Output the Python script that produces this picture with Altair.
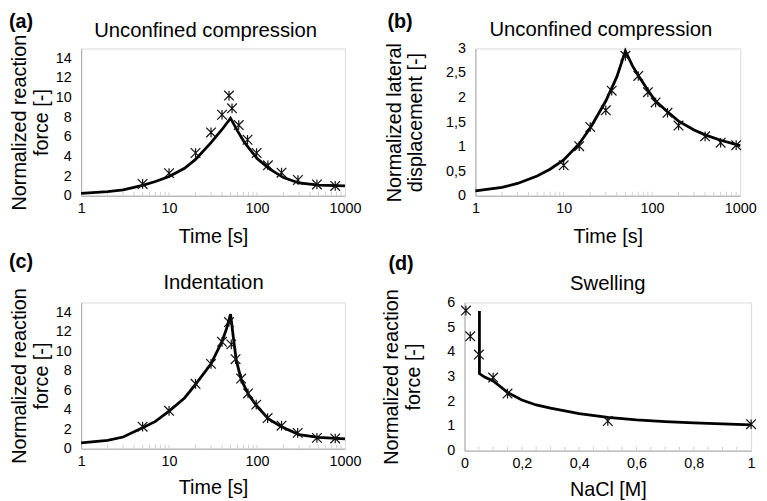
import altair as alt
import pandas as pd

FONT = "Liberation Sans"
STAR = "M-1,-1L1,1M-1,1L1,-1M0,-1L0,1"

# ---------------- data ----------------
PANEL_LABELS = ["(a)", "(b)", "(c)", "(d)"]
PANEL_TITLES = ["Unconfined compression", "Unconfined compression", "Indentation", "Swelling"]

# (a) unconfined compression - reaction force
A_LINE_T = [1, 2, 3, 5, 7, 10, 15, 20, 30, 40, 50, 60, 70, 80, 100, 140, 200, 300, 500, 1000]
A_LINE_F = [0.25, 0.42, 0.6, 1.05, 1.45, 1.95, 2.8, 3.7, 5.4, 6.75, 7.9, 6.6, 5.6, 4.9, 3.8, 2.7, 1.85, 1.3, 1.08, 1.0]
A_PTS_T = [5, 10, 20, 30, 40, 48, 52, 62, 78, 99, 133, 190, 292, 480, 775]
A_PTS_F = [1.2, 2.3, 4.35, 6.45, 8.25, 10.2, 8.9, 7.2, 5.7, 4.35, 3.1, 2.35, 1.6, 1.15, 1.0]

# (b) unconfined compression - lateral displacement
B_LINE_T = [1, 2, 3, 5, 7, 10, 15, 20, 30, 40, 50, 60, 70, 90, 110, 150, 200, 300, 400, 600, 1000]
B_LINE_D = [0.1, 0.17, 0.25, 0.4, 0.54, 0.73, 1.06, 1.38, 1.93, 2.42, 2.95, 2.65, 2.45, 2.15, 1.93, 1.71, 1.52, 1.34, 1.24, 1.13, 1.02]
B_PTS_T = [10, 15, 20, 30, 35, 50, 70, 90, 110, 150, 200, 400, 600, 900]
B_PTS_D = [0.62, 1.01, 1.4, 1.74, 2.14, 2.85, 2.44, 2.11, 1.9, 1.69, 1.43, 1.21, 1.08, 1.03]

# (c) indentation
C_LINE_T = [1, 2, 3, 5, 7, 10, 15, 20, 30, 40, 45, 50, 54, 58, 66, 80, 100, 135, 190, 300, 500, 1000]
C_LINE_F = [0.6, 0.85, 1.2, 2.15, 2.8, 3.85, 5.2, 6.6, 8.7, 11.0, 12.3, 13.8, 11.3, 9.1, 7.1, 5.55, 4.35, 3.05, 2.25, 1.45, 1.15, 1.0]
C_PTS_T = [5, 10, 20, 30, 40, 48, 51, 57, 66, 79, 98, 132, 190, 290, 480, 775]
C_PTS_F = [2.26, 3.88, 6.65, 8.7, 10.96, 12.99, 10.7, 9.18, 7.19, 5.67, 4.52, 3.14, 2.36, 1.62, 1.11, 1.05]

# (d) swelling
D_LINE_C = [0.052, 0.052, 0.07, 0.1, 0.15, 0.2, 0.25, 0.3, 0.4, 0.5, 0.6, 0.7, 0.8, 0.9, 1.0]
D_LINE_F = [5.65, 3.12, 2.98, 2.82, 2.36, 2.05, 1.85, 1.72, 1.5, 1.35, 1.25, 1.18, 1.12, 1.08, 1.04]
D_PTS_C = [0.005, 0.02, 0.05, 0.1, 0.15, 0.5, 1.0]
D_PTS_F = [5.67, 4.63, 3.89, 2.96, 2.31, 1.2, 1.07]

LOG_TICKS = [1, 10, 100, 1000]
LOG_MINOR = [2, 3, 4, 5, 6, 7, 8, 9, 10, 20, 30, 40, 50, 60, 70, 80, 90, 100,
             200, 300, 400, 500, 600, 700, 800, 900]
NACL_TICKS = [0, 0.2, 0.4, 0.6, 0.8, 1.0]
NACL_MINOR = [0.05, 0.1, 0.15, 0.2, 0.25, 0.3, 0.35, 0.4, 0.45, 0.5, 0.55, 0.6,
              0.65, 0.7, 0.75, 0.8, 0.85, 0.9, 0.95]
FORCE_TICKS = [0, 2, 4, 6, 8, 10, 12, 14]
DISP_TICKS = [0, 0.5, 1, 1.5, 2, 2.5, 3]
SWELL_TICKS = [0, 1, 2, 3, 4, 5, 6]

Y_FORCE_TITLE = ["Normalized reaction", "force [-]"]
Y_DISP_TITLE = ["Normalized lateral", "displacement [-]"]
X_TIME_TITLE = "Time [s]"
X_NACL_TITLE = "NaCl [M]"

COMMA = "replace(datum.label, '.', ',')"


def log_axis(tpad):
    return lambda: alt.Axis(values=LOG_TICKS, format="d", title=X_TIME_TITLE,
                            labelPadding=6, titlePadding=tpad)


def nacl_axis(tpad):
    return lambda: alt.Axis(values=NACL_TICKS, format=".1~f", labelExpr=COMMA,
                            title=X_NACL_TITLE, labelPadding=6, titlePadding=tpad)


def y_axis(values, title, tpad, fmt=None):
    kw = dict(values=values, title=title, labelPadding=10, titlePadding=tpad,
              titleLineHeight=22)
    if fmt:
        kw["format"] = fmt
        kw["labelExpr"] = COMMA
    return alt.Axis(**kw)


def panel(idx, lx, ly, px, py, xscale, xaxis_fn, yscale, yaxis, minor,
          w, h, lab_x, lab_y, title_x, title_y):
    def xe():
        return alt.X("x:Q", scale=xscale, axis=xaxis_fn())

    def ye():
        return alt.Y("y:Q", scale=yscale, axis=yaxis)

    line_df = pd.DataFrame({"x": lx, "y": ly, "i": list(range(len(lx)))})
    pts_df = pd.DataFrame({"x": px, "y": py})
    minor_df = pd.DataFrame({"x": minor})
    txt_df = pd.DataFrame({"t": [PANEL_LABELS[idx]], "title": [PANEL_TITLES[idx]]})

    ticks = alt.Chart(minor_df).mark_rule(color="#d0d0d0", strokeWidth=1).encode(
        x=xe(), y=alt.value(h), y2=alt.value(h - 4))
    line = alt.Chart(line_df).mark_line(color="black", strokeWidth=2.8).encode(
        x=xe(), y=ye(), order=alt.Order("i:Q"))
    pts = alt.Chart(pts_df).mark_point(shape=STAR, size=95, filled=False,
                                       color="#111111", strokeWidth=1.2,
                                       opacity=1).encode(x=xe(), y=ye())
    lab = alt.Chart(txt_df).mark_text(align="left", baseline="top", font=FONT,
                                      fontSize=20, fontWeight="bold",
                                      color="black").encode(
        x=alt.value(lab_x), y=alt.value(lab_y), text="t:N")
    ttl = alt.Chart(txt_df).mark_text(align="center", baseline="alphabetic",
                                      font=FONT, fontSize=20.5,
                                      color="black").encode(
        x=alt.value(title_x), y=alt.value(title_y), text="title:N")
    return alt.layer(ticks, line, pts, lab, ttl).properties(width=w, height=h)


log_scale = alt.Scale(type="log", domain=[1, 1000], nice=False)

pa = panel(0, A_LINE_T, A_LINE_F, A_PTS_T, A_PTS_F, log_scale, log_axis(12),
           alt.Scale(domain=[0, 15], nice=False),
           y_axis(FORCE_TICKS, Y_FORCE_TITLE, 4), LOG_MINOR,
           267, 149, -73, -37, 126, -12)
pb = panel(1, B_LINE_T, B_LINE_D, B_PTS_T, B_PTS_D, log_scale, log_axis(12),
           alt.Scale(domain=[0, 3], nice=False),
           y_axis(DISP_TICKS, Y_DISP_TITLE, 20, ".1~f"), LOG_MINOR,
           268, 149, -89, -37, 127, -13)
pc = panel(2, C_LINE_T, C_LINE_F, C_PTS_T, C_PTS_F, log_scale, log_axis(10),
           alt.Scale(domain=[0, 15], nice=False),
           y_axis(FORCE_TICKS, Y_FORCE_TITLE, 4), LOG_MINOR,
           267, 148, -73, -51, 134, -14)
pd_ = panel(3, D_LINE_C, D_LINE_F, D_PTS_C, D_PTS_F,
            alt.Scale(domain=[0, 1], nice=False), nacl_axis(10),
            alt.Scale(domain=[0, 6], nice=False),
            y_axis(SWELL_TICKS, Y_FORCE_TITLE, 23.5), NACL_MINOR,
            290, 150, -77, -49, 145, -13)

chart = alt.vconcat(
    alt.hconcat(pa, pb, spacing=22),
    alt.hconcat(pc, pd_, spacing=19),
    spacing=4,
).properties(padding=0).configure_view(
    stroke="#d9d9d9", strokeWidth=1
).configure_axis(
    labelFont=FONT, titleFont=FONT, labelFontSize=14.5, titleFontSize=20,
    titleFontWeight="normal", labelColor="black", titleColor="black",
    domainColor="#a8a8a8", grid=False, ticks=False, tickSize=0,
    labelFlush=False, labelOverlap=False
)

chart.save("out.html", embed_options={"renderer": "svg", "actions": False})
